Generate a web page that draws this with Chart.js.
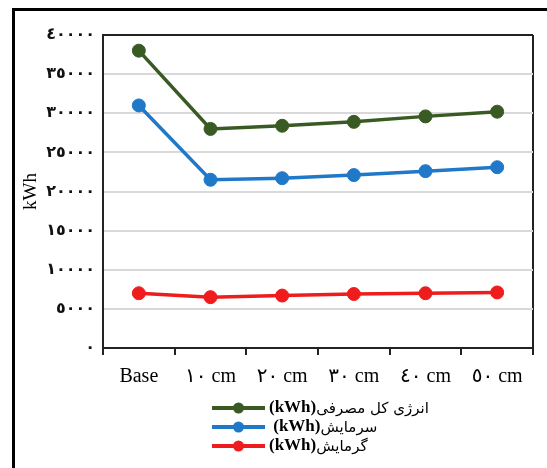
<!DOCTYPE html>
<html>
<head>
<meta charset="utf-8">
<script src="https://cdn.jsdelivr.net/npm/chart.js@4"></script>
<style>
  html, body { margin: 0; padding: 0; background: #fff; }
  #wrap { position: relative; width: 547px; height: 468px; overflow: hidden; }
  #frame { position: absolute; left: 12px; top: 8px; right: -10px; bottom: -10px;
           border-left: 3px solid #000; border-top: 3px solid #000; pointer-events: none; }
  canvas { position: absolute; left: 0; top: 0; }
</style>
</head>
<body>
<div id="wrap">
  <canvas id="chart" width="547" height="468"></canvas>
  <div id="frame"></div>
</div>
<script>
// Insulation thickness cases
const categories = ['Base', '١٠ cm', '٢٠ cm', '٣٠ cm', '٤٠ cm', '٥٠ cm'];

// Annual energy per case (kWh)
const totalEnergy = [38000, 28000, 28400, 28900, 29600, 30200];
const cooling     = [31000, 21500, 21700, 22100, 22600, 23100];
const heating     = [7000, 6500, 6700, 6900, 7000, 7100];

const seriesLabels = ['(kWh)انرژی کل مصرفی', ' (kWh)سرمایش', '(kWh)گرمایش'];
const seriesColors = ['#3a5a24', '#1f78c8', '#ee1c1c'];

// Value axis range and the digits used for its labels
const yMin = 0, yMax = 40000, yStep = 5000;
const arabicDigits = ['٠', '١', '٢', '٣', '٤', '٥', '٦', '٧', '٨', '٩'];

const toArabic = v => String(v).replace(/[0-9]/g, d => arabicDigits[+d]);
const dark = '#222';
const light = '#d9d9d9';

// Vertical legend below the axis: line + dot marker, then the unit in bold
// and the series name in regular weight
const lineLegend = {
  id: 'lineLegend',
  afterDraw(chart) {
    const ctx = chart.ctx;
    const x0 = 212, x1 = 265, firstY = 408, rowH = 19;
    ctx.save();
    chart.data.datasets.forEach((ds, i) => {
      const y = firstY + i * rowH;
      ctx.strokeStyle = ds.borderColor;
      ctx.lineWidth = 4;
      ctx.beginPath();
      ctx.moveTo(x0, y);
      ctx.lineTo(x1, y);
      ctx.stroke();
      ctx.fillStyle = ds.borderColor;
      ctx.beginPath();
      ctx.arc((x0 + x1) / 2, y, 5.5, 0, Math.PI * 2);
      ctx.fill();

      const cut = ds.label.indexOf(')') + 1;
      const unit = ds.label.slice(0, cut);
      const name = ds.label.slice(cut);
      ctx.fillStyle = '#000';
      ctx.textAlign = 'left';
      ctx.textBaseline = 'middle';
      let x = x1 + 4;
      ctx.font = "bold 17px 'Liberation Serif'";
      ctx.fillText(unit, x, y);
      x += ctx.measureText(unit).width;
      ctx.font = "15px 'DejaVu Sans'";
      ctx.fillText(name, x, y + 1);
    });
    ctx.restore();
  }
};

const seriesData = [totalEnergy, cooling, heating];

new Chart(document.getElementById('chart'), {
  type: 'line',
  data: {
    labels: categories,
    datasets: seriesData.map((vals, i) => ({
      label: seriesLabels[i],
      data: vals,
      borderColor: seriesColors[i],
      backgroundColor: seriesColors[i],
      pointBackgroundColor: seriesColors[i],
      pointBorderColor: seriesColors[i],
      borderWidth: 3.5,
      pointRadius: 6.5,
      pointHoverRadius: 6.5,
      pointBorderWidth: 1,
      tension: 0,
      fill: false
    }))
  },
  options: {
    responsive: false,
    animation: false,
    devicePixelRatio: 1,
    layout: { padding: { top: 35, right: 14, bottom: 80, left: 0 } },
    plugins: {
      legend: { display: false },
      tooltip: { enabled: false }
    },
    scales: {
      x: {
        offset: true,
        grid: {
          offset: true,
          drawOnChartArea: true,
          color: c => (c.type === 'tick' ? 'rgba(0,0,0,0)' : dark),
          lineWidth: 2,
          tickLength: 7,
          tickColor: dark,
          tickWidth: 2
        },
        border: { color: dark, width: 2 },
        ticks: {
          color: '#000',
          padding: 10,
          maxRotation: 0,
          autoSkip: false,
          font: { family: "'Liberation Serif', 'DejaVu Sans'", size: 20 }
        },
        afterFit: s => { s.height = 40; }
      },
      y: {
        min: yMin,
        max: yMax,
        ticks: {
          stepSize: yStep,
          padding: 8,
          color: '#111',
          font: { family: "'DejaVu Sans'", size: 16, weight: 'bold' },
          callback: v => toArabic(v)
        },
        grid: {
          drawTicks: false,
          color: c => (c.tick && (c.tick.value === yMax || c.tick.value === yMin) ? dark : light),
          lineWidth: 2
        },
        border: { color: dark, width: 2 },
        title: {
          display: true,
          text: 'kWh',
          color: '#000',
          font: { family: "'Liberation Serif'", size: 19 },
          padding: { top: 20, bottom: 0 }
        },
        afterFit: s => { s.width = 103; }
      }
    }
  },
  plugins: [lineLegend]
});
</script>
</body>
</html>
